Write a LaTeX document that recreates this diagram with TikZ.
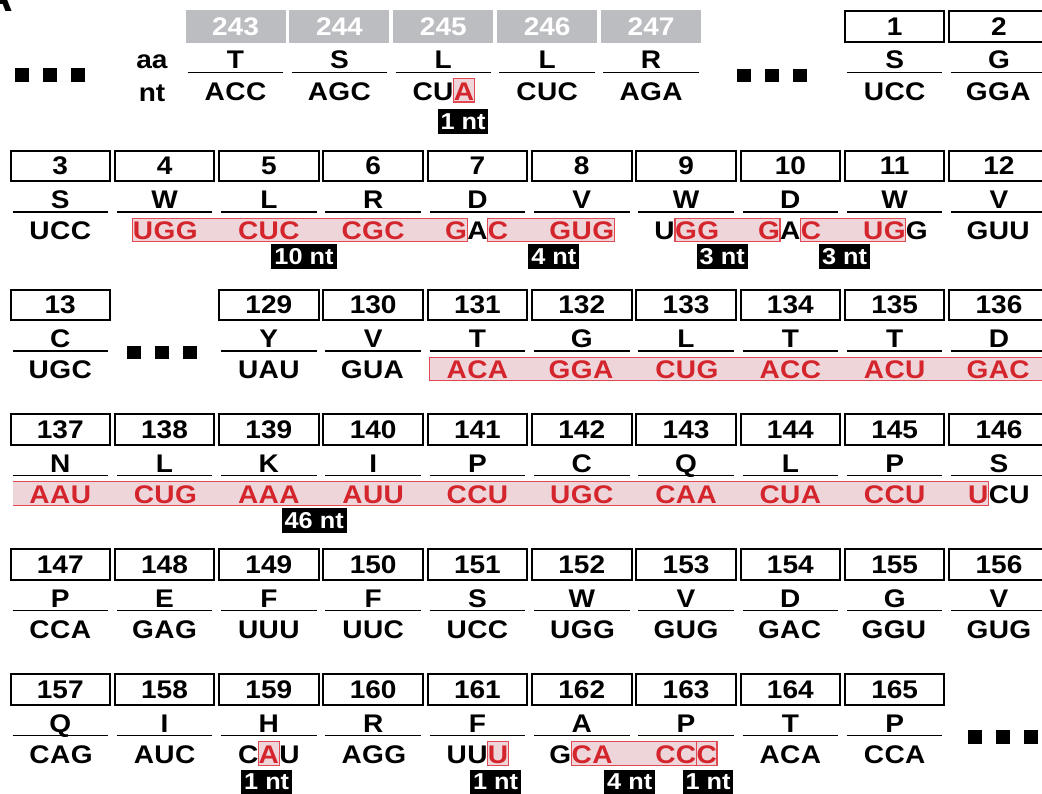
\documentclass[tikz,border=0pt]{standalone}
\usepackage{fontspec}
\setmainfont{Liberation Sans}[FakeStretch=1.1]
\usetikzlibrary{fit,backgrounds}

\definecolor{greyfill}{RGB}{188,189,192}
\definecolor{hlfill}{RGB}{238,213,218}
\definecolor{hlred}{RGB}{224,72,82}
\definecolor{ntred}{RGB}{212,36,44}

\newcommand\numfnt{\fontsize{25.5}{28}\selectfont\bfseries}
\newcommand\aafnt{\fontsize{25.5}{28}\selectfont\bfseries}
\newcommand\ntfnt{\fontsize{25.5}{28}\selectfont\bfseries}
\newcommand\tagfnt{\fontsize{23}{25}\selectfont\bfseries}
\newcommand\rd[1]{\textcolor{ntred}{#1}}

\tikzset{
  numbox/.style={draw=black, line width=2pt, minimum width=99.5pt, minimum height=30.5pt,
                 inner sep=0pt, font=\numfnt},
  greybox/.style={fill=greyfill, text=white, minimum width=100pt, minimum height=33pt,
                  inner sep=0pt, font=\numfnt},
  aalet/.style={font=\aafnt, inner sep=0pt, anchor=base},
  ntlet/.style={font=\ntfnt, inner sep=0pt, text height=21.6pt, text depth=1.4pt},
  uline/.style={line width=1.8pt},
  hl/.style={fill=hlfill, draw=hlred, line width=1.2pt, inner sep=0pt},
  hlfillonly/.style={fill=hlfill},
  hledge/.style={draw=hlred, line width=1.2pt},
  ntag/.style={fill=black, text=white, font=\tagfnt, inner xsep=3pt, inner ysep=0pt,
               minimum height=25pt},
  sq/.style={fill=black}
}

% one codon cell: number box, amino acid, rule, three nucleotides
\newcommand\cell[9][numbox]{%
  \node[#1] (#2) at ({#3},{#4+16.5}) {#5};
  \node[aalet] (#2-aa) at ({#3},{#4+59}) {#6};
  \draw[uline] ({#3-47.75},{#4+62.5}) -- ({#3+47.75},{#4+62.5});
  \node[ntlet,anchor=base] (#2-2) at ({#3},{#4+90.5}) {#8};
  \node[ntlet,anchor=base east] (#2-1) at (#2-2.base west) {#7};
  \node[ntlet,anchor=base west] (#2-3) at (#2-2.base east) {#9};
}
% three black squares (ellipsis)
\newcommand\threesq[2]{%
  \foreach \k in {0,1,2}{\fill[sq] ({#1+28*\k},{#2}) rectangle ++(14,13.5);}
}

\begin{document}
\begin{tikzpicture}[x=1pt,y=-1pt]
\useasboundingbox (0,0) rectangle (1042,794);

% panel letter
\node[font=\fontsize{40}{40}\selectfont\bfseries, anchor=base east, inner sep=0pt] (panelA) at (13,12) {A};

% ---- row 1 ----
\threesq{15}{68.3}
\node[font=\numfnt, anchor=base, inner sep=0pt] (lblaa) at (152,68.3) {aa};
\node[font=\numfnt, anchor=base, inner sep=0pt] (lblnt) at (152,101.2) {nt};
\cell[greybox]{c243}{235.5}{10}{243}{T}{A}{C}{C}
\cell[greybox]{c244}{339.4}{10}{244}{S}{A}{G}{C}
\cell[greybox]{c245}{443.3}{10}{245}{L}{C}{U}{\rd{A}}
\cell[greybox]{c246}{547.2}{10}{246}{L}{C}{U}{C}
\cell[greybox]{c247}{651.1}{10}{247}{R}{A}{G}{A}
\threesq{736.7}{69}
\cell{c1}{894.65}{10}{1}{S}{U}{C}{C}
\cell{c2}{998.95}{10}{2}{G}{G}{G}{A}

% ---- row 2 ----
\cell{c3}{60.25}{149.5}{3}{S}{U}{C}{C}
\cell{c4}{164.55}{149.5}{4}{W}{\rd{U}}{\rd{G}}{\rd{G}}
\cell{c5}{268.85}{149.5}{5}{L}{\rd{C}}{\rd{U}}{\rd{C}}
\cell{c6}{373.15}{149.5}{6}{R}{\rd{C}}{\rd{G}}{\rd{C}}
\cell{c7}{477.45}{149.5}{7}{D}{\rd{G}}{A}{\rd{C}}
\cell{c8}{581.75}{149.5}{8}{V}{\rd{G}}{\rd{U}}{\rd{G}}
\cell{c9}{686.05}{149.5}{9}{W}{U}{\rd{G}}{\rd{G}}
\cell{c10}{790.35}{149.5}{10}{D}{\rd{G}}{A}{\rd{C}}
\cell{c11}{894.65}{149.5}{11}{W}{\rd{U}}{\rd{G}}{G}
\cell{c12}{998.95}{149.5}{12}{V}{G}{U}{U}

% ---- row 3 ----
\cell{c13}{60.25}{288.5}{13}{C}{U}{G}{C}
\threesq{126.7}{346}
\cell{c129}{268.85}{288.5}{129}{Y}{U}{A}{U}
\cell{c130}{373.15}{288.5}{130}{V}{G}{U}{A}
\cell{c131}{477.45}{288.5}{131}{T}{\rd{A}}{\rd{C}}{\rd{A}}
\cell{c132}{581.75}{288.5}{132}{G}{\rd{G}}{\rd{G}}{\rd{A}}
\cell{c133}{686.05}{288.5}{133}{L}{\rd{C}}{\rd{U}}{\rd{G}}
\cell{c134}{790.35}{288.5}{134}{T}{\rd{A}}{\rd{C}}{\rd{C}}
\cell{c135}{894.65}{288.5}{135}{T}{\rd{A}}{\rd{C}}{\rd{U}}
\cell{c136}{998.95}{288.5}{136}{D}{\rd{G}}{\rd{A}}{\rd{C}}

% ---- row 4 ----
\cell{c137}{60.25}{413}{137}{N}{\rd{A}}{\rd{A}}{\rd{U}}
\cell{c138}{164.55}{413}{138}{L}{\rd{C}}{\rd{U}}{\rd{G}}
\cell{c139}{268.85}{413}{139}{K}{\rd{A}}{\rd{A}}{\rd{A}}
\cell{c140}{373.15}{413}{140}{I}{\rd{A}}{\rd{U}}{\rd{U}}
\cell{c141}{477.45}{413}{141}{P}{\rd{C}}{\rd{C}}{\rd{U}}
\cell{c142}{581.75}{413}{142}{C}{\rd{U}}{\rd{G}}{\rd{C}}
\cell{c143}{686.05}{413}{143}{Q}{\rd{C}}{\rd{A}}{\rd{A}}
\cell{c144}{790.35}{413}{144}{L}{\rd{C}}{\rd{U}}{\rd{A}}
\cell{c145}{894.65}{413}{145}{P}{\rd{C}}{\rd{C}}{\rd{U}}
\cell{c146}{998.95}{413}{146}{S}{\rd{U}}{C}{U}

% ---- row 5 ----
\cell{c147}{60.25}{548}{147}{P}{C}{C}{A}
\cell{c148}{164.55}{548}{148}{E}{G}{A}{G}
\cell{c149}{268.85}{548}{149}{F}{U}{U}{U}
\cell{c150}{373.15}{548}{150}{F}{U}{U}{C}
\cell{c151}{477.45}{548}{151}{S}{U}{C}{C}
\cell{c152}{581.75}{548}{152}{W}{U}{G}{G}
\cell{c153}{686.05}{548}{153}{V}{G}{U}{G}
\cell{c154}{790.35}{548}{154}{D}{G}{A}{C}
\cell{c155}{894.65}{548}{155}{G}{G}{G}{U}
\cell{c156}{998.95}{548}{156}{V}{G}{U}{G}

% ---- row 6 ----
\cell{c157}{60.25}{673}{157}{Q}{C}{A}{G}
\cell{c158}{164.55}{673}{158}{I}{A}{U}{C}
\cell{c159}{268.85}{673}{159}{H}{C}{\rd{A}}{U}
\cell{c160}{373.15}{673}{160}{R}{A}{G}{G}
\cell{c161}{477.45}{673}{161}{F}{U}{U}{\rd{U}}
\cell{c162}{581.75}{673}{162}{A}{G}{\rd{C}}{\rd{A}}
\cell{c163}{686.05}{673}{163}{P}{\rd{C}}{\rd{C}}{\rd{C}}
\cell{c164}{790.35}{673}{164}{T}{A}{C}{A}
\cell{c165}{894.65}{673}{165}{P}{C}{C}{A}
\threesq{968.3}{730}

% ---- shaded deletion spans ----
\coordinate (r3start) at (429.7,0);
\coordinate (r3end) at (1050,0);
\coordinate (r4start) at (12.5,0);
\begin{scope}[on background layer]
  \node[hl, fit=(c245-3)] (h1) {};
  \node[hl, fit=(c4-1)(c7-1)] (h2) {};
  \node[hl, fit=(c7-3)(c8-3)] (h3) {};
  \node[hl, fit=(c9-2)(c10-1)] (h4) {};
  \node[hl, fit=(c10-3)(c11-2)] (h5) {};
  \fill[hlfillonly] (r3start |- c131-1.south) rectangle (r3end |- c131-1.north);
  \draw[hledge] (r3end |- c131-1.north) -- (r3start |- c131-1.north) -- (r3start |- c131-1.south) -- (r3end |- c131-1.south);
  \fill[hlfillonly] (r4start |- c137-1.north) rectangle (c146-1.south east);
  \draw[hledge] (r4start |- c137-1.north) -- (c146-1.north east) -- (c146-1.south east) -- (r4start |- c137-1.south);
  \node[hl, fit=(c159-2)] (h6) {};
  \node[hl, fit=(c161-3)] (h7) {};
  \node[hl, fit=(c162-2)(c163-2)] (h8) {};
  \node[hl, fit=(c163-3)] (h9) {};
\end{scope}

% ---- deletion length tags ----
\node[ntag] (t1) at (463,122) {1 nt};
\node[ntag] (t2) at (304,256.3) {10 nt};
\node[ntag] (t3) at (553.8,256.3) {4 nt};
\node[ntag] (t4) at (722.2,256.3) {3 nt};
\node[ntag] (t5) at (844.5,256.3) {3 nt};
\node[ntag] (t6) at (314.2,520.8) {46 nt};
\node[ntag] (t7) at (266.7,782) {1 nt};
\node[ntag] (t8) at (495.5,782) {1 nt};
\node[ntag] (t9) at (629.7,782) {4 nt};
\node[ntag] (t10) at (708,782) {1 nt};
\end{tikzpicture}
\end{document}
